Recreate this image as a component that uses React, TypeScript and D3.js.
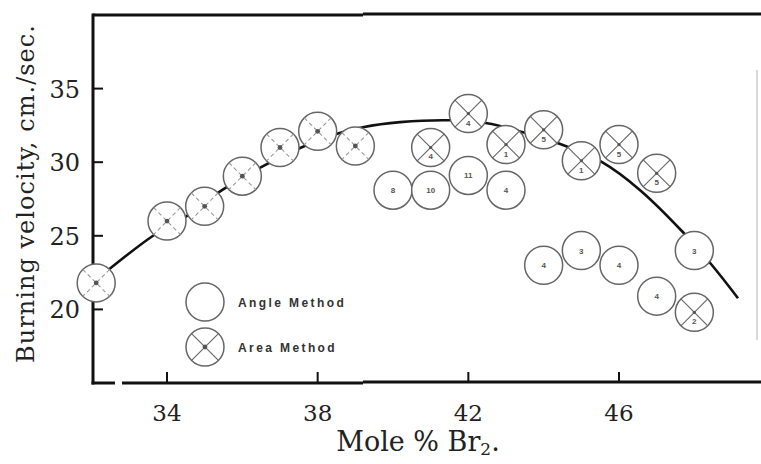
import React from "react";
import * as d3 from "d3";

// Burning velocity vs mole % Br2 (angle method = open circles, area method = crossed circles)
const angleX = [40, 41, 42, 43, 44, 45, 46, 47, 48];
const angleY = [28.1, 28.1, 29.1, 28.1, 23.0, 24.0, 23.0, 20.9, 24.0];
const angleN = ["8", "10", "11", "4", "4", "3", "4", "4", "3"];

const areaX = [32.12, 34, 35, 36, 37, 38, 39, 41, 42, 43, 44, 45, 46, 47, 48];
const areaY = [21.8, 26.0, 27.0, 29.05, 31.0, 32.1, 31.1, 31.0, 33.3, 31.2, 32.2, 30.1, 31.2, 29.25, 19.8];
const areaN = ["", "", "", "", "", "", "", "4", "4", "1", "5", "1", "5", "5", "2"];

// hand-drawn smooth curve through the data
const curveX = [32.43, 33.65, 34.48, 35.46, 36.6, 37.58, 38.56, 39.2, 40.19, 41.51, 42.5, 43.45, 44.38, 45.55, 46.56, 47.7, 48.47, 49.16];
const curveY = [22.66, 25.04, 26.26, 28.1, 29.8, 31.02, 31.97, 32.38, 32.72, 32.85, 32.65, 32.04, 31.29, 30.0, 28.1, 25.24, 23.0, 20.76];

const xTicks = [34, 38, 42, 46];
const yTicks = [20, 25, 30, 35];

const W = 761;
const H = 464;
const left = 93;
const right = 761;
const top = 15;
const bottom = 383;
const R = 19;

export default function App() {
  const x = d3.scaleLinear().domain([34, 46]).range([167, 619]);
  const y = d3.scaleLinear().domain([15, 40]).range([bottom, top]);

  const line = d3
    .line<number>()
    .x((d) => x(curveX[d]))
    .y((d) => y(curveY[d]))
    .curve(d3.curveCatmullRom.alpha(0.5));

  const serif = "'DejaVu Serif', serif";
  const sans = "'Liberation Sans', Arial, sans-serif";
  const d45 = R * Math.SQRT1_2;

  const crossed = (cx: number, cy: number, key: string, label: string, faint = false) => (
    <g key={key} transform={`translate(${cx},${cy})`}>
      <circle r={R} fill="#fff" stroke="#666" strokeWidth={1.5} />
      <line x1={-d45} y1={-d45} x2={d45} y2={d45} stroke={faint ? "#999" : "#666"} strokeWidth={1.1} strokeDasharray={faint ? "4 3" : undefined} />
      <line x1={d45} y1={-d45} x2={-d45} y2={d45} stroke={faint ? "#999" : "#666"} strokeWidth={1.1} strokeDasharray={faint ? "4 3" : undefined} />
      <circle r={label ? 1.6 : 2.4} fill="#555" />
      {label && (
        <text y={12} textAnchor="middle" fontFamily={sans} fontSize={8} fontWeight="bold" fill="#555">
          {label}
        </text>
      )}
    </g>
  );

  const open = (cx: number, cy: number, key: string, label: string) => (
    <g key={key} transform={`translate(${cx},${cy})`}>
      <circle r={R} fill="#fff" stroke="#666" strokeWidth={1.5} />
      {label && (
        <text y={3} textAnchor="middle" fontFamily={sans} fontSize={8} fontWeight="bold" fill="#555">
          {label}
        </text>
      )}
    </g>
  );

  return (
    <svg width={W} height={H} style={{ position: "absolute", left: 0, top: 0, background: "#fff" }}>
      {/* frame */}
      <line x1={left} y1={top} x2={363} y2={top} stroke="#111" strokeWidth={3} />
      <line x1={363} y1={top - 1} x2={right} y2={top - 1} stroke="#111" strokeWidth={3} />
      <line x1={left} y1={top - 1.5} x2={left} y2={bottom + 1.5} stroke="#111" strokeWidth={3} />
      <line x1={left - 1.5} y1={bottom} x2={115} y2={bottom} stroke="#111" strokeWidth={3} />
      <line x1={122} y1={bottom} x2={363} y2={bottom} stroke="#111" strokeWidth={3} />
      <line x1={363} y1={bottom - 1} x2={right} y2={bottom - 1} stroke="#111" strokeWidth={3} />
      <line x1={757} y1={70} x2={757} y2={340} stroke="#ccc" strokeWidth={1.5} />

      {/* ticks */}
      {xTicks.map((t) => (
        <g key={`xt${t}`}>
          <line x1={x(t)} x2={x(t)} y1={bottom} y2={bottom - 11} stroke="#111" strokeWidth={2} />
          <text x={x(t)} y={421} textAnchor="middle" fontFamily={serif} fontSize={23} fill="#222">
            {t}
          </text>
        </g>
      ))}
      {yTicks.map((t) => (
        <g key={`yt${t}`}>
          <line x1={left} x2={left + 10} y1={y(t)} y2={y(t)} stroke="#111" strokeWidth={2} />
          <text x={80} y={y(t) + 9} textAnchor="end" fontFamily={serif} fontSize={24} fill="#222">
            {t}
          </text>
        </g>
      ))}

      {/* axis titles */}
      <text
        transform="translate(34,194) rotate(-90)"
        textAnchor="middle"
        fontFamily={serif}
        fontSize={24}
        textLength={338}
        lengthAdjust="spacing"
        fill="#222"
      >
        Burning velocity, cm./sec.
      </text>
      <text x={418} y={451} textAnchor="middle" fontFamily={serif} fontSize={27} fill="#222">
        Mole % Br
        <tspan fontSize={17} dy={4}>2</tspan>
        <tspan dy={-4}>.</tspan>
      </text>

      {/* curve */}
      <path d={line(d3.range(curveX.length)) || ""} fill="none" stroke="#111" strokeWidth={2.6} />

      {/* points */}
      {areaX.map((v, i) => crossed(x(v), y(areaY[i]), `a${i}`, areaN[i], areaN[i] === ""))}
      {angleX.map((v, i) => open(x(v), y(angleY[i]), `o${i}`, angleN[i]))}

      {/* legend */}
      {open(205, 302, "la", "")}
      <text x={238} y={307} fontFamily={sans} fontSize={12} fontWeight="bold" letterSpacing={2.4} fill="#333">
        Angle Method
      </text>
      {crossed(205, 347, "lb", "")}
      <text x={238} y={352} fontFamily={sans} fontSize={12} fontWeight="bold" letterSpacing={2.4} fill="#333">
        Area Method
      </text>
    </svg>
  );
}
